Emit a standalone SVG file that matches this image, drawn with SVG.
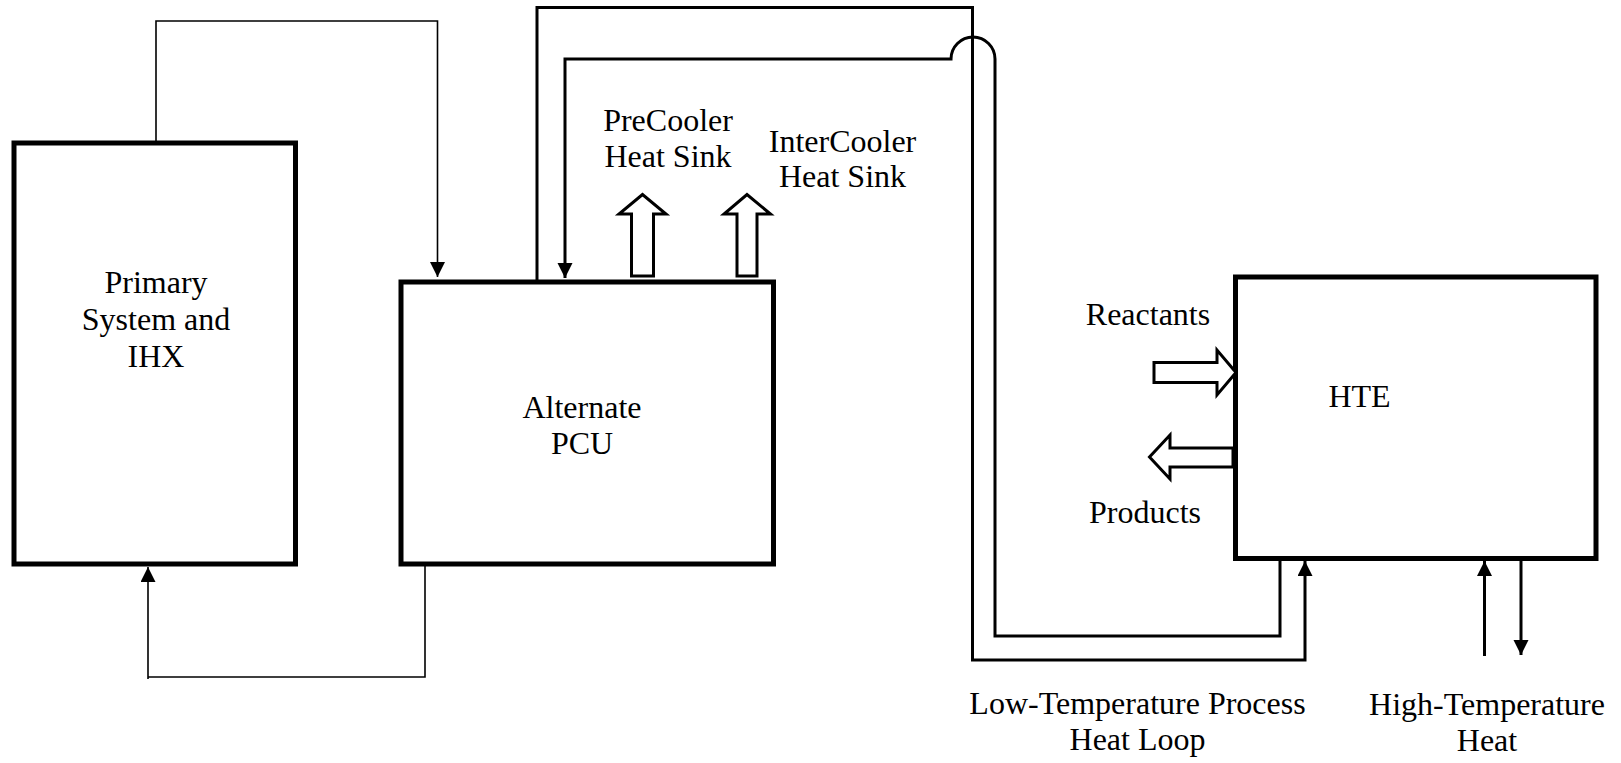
<svg xmlns="http://www.w3.org/2000/svg" width="1621" height="763" viewBox="0 0 1621 763">
<style>
.box{fill:#fff;stroke:#000;stroke-width:5}
.lbl{font-family:"Liberation Serif","Times New Roman",serif;font-size:32px;fill:#000;text-anchor:middle}
.thin{fill:none;stroke:#000;stroke-width:1.6}
.thick{fill:none;stroke:#000;stroke-width:3}
.block{fill:#fff;stroke:#000;stroke-width:3;stroke-linejoin:miter}
</style>
<defs>
<marker id="ah" markerUnits="userSpaceOnUse" markerWidth="16" markerHeight="16" refX="15" refY="7.5" orient="auto">
<path d="M0,0 L15,7.5 L0,15 z" fill="#000"/>
</marker>
</defs>
<rect width="1621" height="763" fill="#fff"/>
<g id="connectors">
<path class="thin" d="M156,143 V21 H437.5 V277" marker-end="url(#ah)"/>
<path class="thin" d="M425,564 V677 H148 M148,679 V567" marker-end="url(#ah)"/>
<path class="thick" d="M537,282 V7.5 H972.5 V660 H1305 V561" marker-end="url(#ah)"/>
<path class="thick" d="M1280,558 V636 H995 V59 A22,22 0 0 0 951,59 H565 V278" marker-end="url(#ah)"/>
<path class="thick" d="M1484.5,656 V561" marker-end="url(#ah)"/>
<path class="thick" d="M1521,561 V655" marker-end="url(#ah)"/>
</g>
<g id="primary">
<rect class="box" x="14" y="143" width="281.5" height="421"/>
<text class="lbl" x="156" y="293">Primary</text>
<text class="lbl" x="156" y="330">System and</text>
<text class="lbl" x="156" y="367">IHX</text>
</g>
<g id="pcu">
<rect class="box" x="401" y="282" width="372.5" height="282"/>
<text class="lbl" x="582" y="418">Alternate</text>
<text class="lbl" x="582" y="454">PCU</text>
</g>
<g id="precooler">
<polygon class="block" points="631.5,276 631.5,214 619,214 642.5,194.5 666,214 653.5,214 653.5,276"/>
<text class="lbl" x="668" y="131">PreCooler</text>
<text class="lbl" x="668" y="167">Heat Sink</text>
</g>
<g id="intercooler">
<polygon class="block" points="737,276 737,214 724,214 747,194.5 770.5,214 757,214 757,276"/>
<text class="lbl" x="842.5" y="152">InterCooler</text>
<text class="lbl" x="842.5" y="187">Heat Sink</text>
</g>
<g id="hte">
<rect class="box" x="1235.5" y="277" width="360.5" height="281.5"/>
<text class="lbl" x="1359.5" y="407">HTE</text>
</g>
<g id="reactants">
<polygon class="block" points="1154,362.5 1217,362.5 1217,350 1236,372.5 1217,395 1217,382.5 1154,382.5"/>
<text class="lbl" x="1148" y="325">Reactants</text>
</g>
<g id="products">
<polygon class="block" points="1233,448 1170,448 1170,435 1149.5,457 1170,479 1170,467 1233,467"/>
<text class="lbl" x="1145" y="523">Products</text>
</g>
<g id="low-temp-label">
<text class="lbl" x="1137.5" y="714">Low-Temperature Process</text>
<text class="lbl" x="1137.5" y="750">Heat Loop</text>
</g>
<g id="high-temp-label">
<text class="lbl" x="1487" y="715">High-Temperature</text>
<text class="lbl" x="1487" y="751">Heat</text>
</g>
</svg>
